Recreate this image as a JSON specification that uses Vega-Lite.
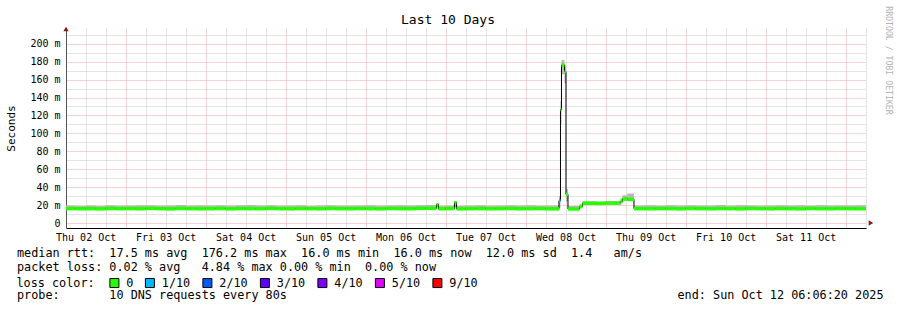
{
  "$schema": "https://vega.github.io/schema/vega-lite/v6.json",
  "width": 800,
  "height": 200,
  "autosize": {"type": "none"},
  "padding": {"left": 66, "top": 28, "right": 31, "bottom": 82},
  "background": "white",
  "config": {"view": {"stroke": null}, "font": "DejaVu Sans Mono"},
  "title": {"text": "Last 10 Days", "font": "DejaVu Sans Mono", "fontSize": 13, "fontWeight": "normal", "color": "#000000", "anchor": "middle", "frame": "group", "dx": -18, "dy": 24, "offset": 3},
  "data": {"values": [
    {"t": "2025-10-02T06:06:20Z", "t2": "2025-10-02T09:00:00Z", "med": 16.1, "lo": 15.3, "hi": 19.4, "loss": "0"},
    {"t": "2025-10-02T09:00:00Z", "t2": "2025-10-02T12:00:00Z", "med": 15.9, "lo": 15.2, "hi": 19.1, "loss": "0"},
    {"t": "2025-10-02T12:00:00Z", "t2": "2025-10-02T15:00:00Z", "med": 16.0, "lo": 15.3, "hi": 19.6, "loss": "0"},
    {"t": "2025-10-02T15:00:00Z", "t2": "2025-10-02T18:00:00Z", "med": 15.8, "lo": 15.2, "hi": 19.0, "loss": "0"},
    {"t": "2025-10-02T18:00:00Z", "t2": "2025-10-02T21:00:00Z", "med": 16.2, "lo": 15.4, "hi": 19.8, "loss": "0"},
    {"t": "2025-10-02T21:00:00Z", "t2": "2025-10-03T00:00:00Z", "med": 16.0, "lo": 15.3, "hi": 19.3, "loss": "0"},
    {"t": "2025-10-03T00:00:00Z", "t2": "2025-10-03T03:00:00Z", "med": 16.1, "lo": 15.3, "hi": 19.5, "loss": "0"},
    {"t": "2025-10-03T03:00:00Z", "t2": "2025-10-03T06:00:00Z", "med": 15.9, "lo": 15.2, "hi": 19.9, "loss": "0"},
    {"t": "2025-10-03T06:00:00Z", "t2": "2025-10-03T09:00:00Z", "med": 16.3, "lo": 15.4, "hi": 19.7, "loss": "0"},
    {"t": "2025-10-03T09:00:00Z", "t2": "2025-10-03T12:00:00Z", "med": 16.0, "lo": 15.3, "hi": 19.2, "loss": "0"},
    {"t": "2025-10-03T12:00:00Z", "t2": "2025-10-03T15:00:00Z", "med": 15.8, "lo": 15.2, "hi": 19.6, "loss": "0"},
    {"t": "2025-10-03T15:00:00Z", "t2": "2025-10-03T18:00:00Z", "med": 16.2, "lo": 15.4, "hi": 20.0, "loss": "0"},
    {"t": "2025-10-03T18:00:00Z", "t2": "2025-10-03T21:00:00Z", "med": 16.0, "lo": 15.3, "hi": 19.4, "loss": "0"},
    {"t": "2025-10-03T21:00:00Z", "t2": "2025-10-04T00:00:00Z", "med": 15.9, "lo": 15.2, "hi": 19.8, "loss": "0"},
    {"t": "2025-10-04T00:00:00Z", "t2": "2025-10-04T03:00:00Z", "med": 16.0, "lo": 15.3, "hi": 19.6, "loss": "0"},
    {"t": "2025-10-04T03:00:00Z", "t2": "2025-10-04T06:00:00Z", "med": 16.2, "lo": 15.4, "hi": 19.9, "loss": "0"},
    {"t": "2025-10-04T06:00:00Z", "t2": "2025-10-04T09:00:00Z", "med": 15.8, "lo": 15.2, "hi": 19.3, "loss": "0"},
    {"t": "2025-10-04T09:00:00Z", "t2": "2025-10-04T12:00:00Z", "med": 16.1, "lo": 15.3, "hi": 19.7, "loss": "0"},
    {"t": "2025-10-04T12:00:00Z", "t2": "2025-10-04T15:00:00Z", "med": 16.0, "lo": 15.3, "hi": 20.1, "loss": "0"},
    {"t": "2025-10-04T15:00:00Z", "t2": "2025-10-04T18:00:00Z", "med": 15.9, "lo": 15.2, "hi": 19.5, "loss": "0"},
    {"t": "2025-10-04T18:00:00Z", "t2": "2025-10-04T21:00:00Z", "med": 16.3, "lo": 15.4, "hi": 19.8, "loss": "0"},
    {"t": "2025-10-04T21:00:00Z", "t2": "2025-10-05T00:00:00Z", "med": 16.0, "lo": 15.3, "hi": 19.2, "loss": "0"},
    {"t": "2025-10-05T00:00:00Z", "t2": "2025-10-05T03:00:00Z", "med": 15.9, "lo": 15.2, "hi": 19.4, "loss": "0"},
    {"t": "2025-10-05T03:00:00Z", "t2": "2025-10-05T06:00:00Z", "med": 16.1, "lo": 15.3, "hi": 19.7, "loss": "0"},
    {"t": "2025-10-05T06:00:00Z", "t2": "2025-10-05T09:00:00Z", "med": 16.0, "lo": 15.3, "hi": 19.1, "loss": "0"},
    {"t": "2025-10-05T09:00:00Z", "t2": "2025-10-05T12:00:00Z", "med": 15.8, "lo": 15.2, "hi": 19.5, "loss": "0"},
    {"t": "2025-10-05T12:00:00Z", "t2": "2025-10-05T15:00:00Z", "med": 16.2, "lo": 15.4, "hi": 19.9, "loss": "0"},
    {"t": "2025-10-05T15:00:00Z", "t2": "2025-10-05T18:00:00Z", "med": 16.0, "lo": 15.3, "hi": 19.3, "loss": "0"},
    {"t": "2025-10-05T18:00:00Z", "t2": "2025-10-05T21:00:00Z", "med": 15.9, "lo": 15.2, "hi": 19.6, "loss": "0"},
    {"t": "2025-10-05T21:00:00Z", "t2": "2025-10-06T00:00:00Z", "med": 16.1, "lo": 15.3, "hi": 19.4, "loss": "0"},
    {"t": "2025-10-06T00:00:00Z", "t2": "2025-10-06T03:00:00Z", "med": 16.0, "lo": 15.3, "hi": 19.8, "loss": "0"},
    {"t": "2025-10-06T03:00:00Z", "t2": "2025-10-06T06:00:00Z", "med": 15.8, "lo": 15.2, "hi": 19.2, "loss": "0"},
    {"t": "2025-10-06T06:00:00Z", "t2": "2025-10-06T09:00:00Z", "med": 16.2, "lo": 15.4, "hi": 19.6, "loss": "0"},
    {"t": "2025-10-06T09:00:00Z", "t2": "2025-10-06T12:00:00Z", "med": 16.0, "lo": 15.3, "hi": 19.9, "loss": "0"},
    {"t": "2025-10-06T12:00:00Z", "t2": "2025-10-06T15:00:00Z", "med": 15.9, "lo": 15.2, "hi": 19.4, "loss": "0"},
    {"t": "2025-10-06T15:00:00Z", "t2": "2025-10-06T18:00:00Z", "med": 16.3, "lo": 15.4, "hi": 19.7, "loss": "0"},
    {"t": "2025-10-06T18:00:00Z", "t2": "2025-10-06T21:15:00Z", "med": 16.4, "lo": 15.4, "hi": 20.0, "loss": "0"},
    {"t": "2025-10-06T21:15:00Z", "t2": "2025-10-06T21:51:00Z", "med": 20.6, "lo": 16.5, "hi": 21.8, "loss": "0"},
    {"t": "2025-10-06T21:51:00Z", "t2": "2025-10-07T00:00:00Z", "med": 15.9, "lo": 15.2, "hi": 19.3, "loss": "0"},
    {"t": "2025-10-07T00:00:00Z", "t2": "2025-10-07T02:39:00Z", "med": 16.1, "lo": 15.3, "hi": 19.6, "loss": "0"},
    {"t": "2025-10-07T02:39:00Z", "t2": "2025-10-07T03:15:00Z", "med": 22.8, "lo": 17.0, "hi": 24.5, "loss": "0"},
    {"t": "2025-10-07T03:15:00Z", "t2": "2025-10-07T06:00:00Z", "med": 15.8, "lo": 15.2, "hi": 19.2, "loss": "0"},
    {"t": "2025-10-07T06:00:00Z", "t2": "2025-10-07T09:00:00Z", "med": 16.0, "lo": 15.3, "hi": 19.5, "loss": "0"},
    {"t": "2025-10-07T09:00:00Z", "t2": "2025-10-07T12:00:00Z", "med": 16.1, "lo": 15.3, "hi": 19.8, "loss": "0"},
    {"t": "2025-10-07T12:00:00Z", "t2": "2025-10-07T15:00:00Z", "med": 15.9, "lo": 15.2, "hi": 19.3, "loss": "0"},
    {"t": "2025-10-07T15:00:00Z", "t2": "2025-10-07T18:00:00Z", "med": 16.0, "lo": 15.3, "hi": 19.6, "loss": "0"},
    {"t": "2025-10-07T18:00:00Z", "t2": "2025-10-07T21:00:00Z", "med": 16.2, "lo": 15.4, "hi": 19.9, "loss": "0"},
    {"t": "2025-10-07T21:00:00Z", "t2": "2025-10-08T00:00:00Z", "med": 15.9, "lo": 15.2, "hi": 19.4, "loss": "0"},
    {"t": "2025-10-08T00:00:00Z", "t2": "2025-10-08T03:00:00Z", "med": 16.0, "lo": 15.3, "hi": 19.7, "loss": "0"},
    {"t": "2025-10-08T03:00:00Z", "t2": "2025-10-08T06:00:00Z", "med": 16.1, "lo": 15.3, "hi": 19.2, "loss": "0"},
    {"t": "2025-10-08T06:00:00Z", "t2": "2025-10-08T10:00:00Z", "med": 15.8, "lo": 15.2, "hi": 19.5, "loss": "0"},
    {"t": "2025-10-08T10:00:00Z", "t2": "2025-10-08T10:27:00Z", "med": 25.0, "lo": 17.0, "hi": 30.0, "loss": "1/10"},
    {"t": "2025-10-08T10:27:00Z", "t2": "2025-10-08T10:45:00Z", "med": 126.6, "lo": 110.0, "hi": 136.0, "loss": "0"},
    {"t": "2025-10-08T10:45:00Z", "t2": "2025-10-08T11:39:00Z", "med": 176.2, "lo": 166.0, "hi": 182.0, "loss": "0"},
    {"t": "2025-10-08T11:39:00Z", "t2": "2025-10-08T12:06:00Z", "med": 169.0, "lo": 156.0, "hi": 176.0, "loss": "0"},
    {"t": "2025-10-08T12:06:00Z", "t2": "2025-10-08T12:42:00Z", "med": 32.0, "lo": 24.0, "hi": 38.0, "loss": "0"},
    {"t": "2025-10-08T12:42:00Z", "t2": "2025-10-08T16:09:00Z", "med": 15.6, "lo": 15.0, "hi": 19.0, "loss": "0"},
    {"t": "2025-10-08T16:09:00Z", "t2": "2025-10-08T17:03:00Z", "med": 18.3, "lo": 17.0, "hi": 21.0, "loss": "0"},
    {"t": "2025-10-08T17:03:00Z", "t2": "2025-10-08T21:00:00Z", "med": 22.0, "lo": 20.5, "hi": 24.3, "loss": "0"},
    {"t": "2025-10-08T21:00:00Z", "t2": "2025-10-09T00:00:00Z", "med": 21.9, "lo": 20.6, "hi": 24.0, "loss": "0"},
    {"t": "2025-10-09T00:00:00Z", "t2": "2025-10-09T04:27:00Z", "med": 22.1, "lo": 20.7, "hi": 24.6, "loss": "0"},
    {"t": "2025-10-09T04:27:00Z", "t2": "2025-10-09T05:03:00Z", "med": 24.0, "lo": 22.0, "hi": 27.5, "loss": "0"},
    {"t": "2025-10-09T05:03:00Z", "t2": "2025-10-09T06:30:00Z", "med": 26.8, "lo": 24.5, "hi": 31.0, "loss": "0"},
    {"t": "2025-10-09T06:30:00Z", "t2": "2025-10-09T08:30:00Z", "med": 26.5, "lo": 24.2, "hi": 33.0, "loss": "0"},
    {"t": "2025-10-09T08:30:00Z", "t2": "2025-10-09T12:00:00Z", "med": 16.0, "lo": 15.3, "hi": 19.4, "loss": "0"},
    {"t": "2025-10-09T12:00:00Z", "t2": "2025-10-09T15:00:00Z", "med": 15.9, "lo": 15.2, "hi": 19.7, "loss": "0"},
    {"t": "2025-10-09T15:00:00Z", "t2": "2025-10-09T18:00:00Z", "med": 16.1, "lo": 15.3, "hi": 19.3, "loss": "0"},
    {"t": "2025-10-09T18:00:00Z", "t2": "2025-10-09T21:00:00Z", "med": 16.0, "lo": 15.3, "hi": 19.8, "loss": "0"},
    {"t": "2025-10-09T21:00:00Z", "t2": "2025-10-10T00:00:00Z", "med": 15.8, "lo": 15.2, "hi": 19.5, "loss": "0"},
    {"t": "2025-10-10T00:00:00Z", "t2": "2025-10-10T03:00:00Z", "med": 16.2, "lo": 15.4, "hi": 19.9, "loss": "0"},
    {"t": "2025-10-10T03:00:00Z", "t2": "2025-10-10T06:00:00Z", "med": 16.0, "lo": 15.3, "hi": 19.4, "loss": "0"},
    {"t": "2025-10-10T06:00:00Z", "t2": "2025-10-10T09:00:00Z", "med": 15.9, "lo": 15.2, "hi": 19.6, "loss": "0"},
    {"t": "2025-10-10T09:00:00Z", "t2": "2025-10-10T12:00:00Z", "med": 16.1, "lo": 15.3, "hi": 20.0, "loss": "0"},
    {"t": "2025-10-10T12:00:00Z", "t2": "2025-10-10T15:00:00Z", "med": 16.0, "lo": 15.3, "hi": 19.3, "loss": "0"},
    {"t": "2025-10-10T15:00:00Z", "t2": "2025-10-10T18:00:00Z", "med": 15.8, "lo": 15.2, "hi": 19.7, "loss": "0"},
    {"t": "2025-10-10T18:00:00Z", "t2": "2025-10-10T21:00:00Z", "med": 16.2, "lo": 15.4, "hi": 19.5, "loss": "0"},
    {"t": "2025-10-10T21:00:00Z", "t2": "2025-10-11T00:00:00Z", "med": 16.0, "lo": 15.3, "hi": 19.2, "loss": "0"},
    {"t": "2025-10-11T00:00:00Z", "t2": "2025-10-11T03:00:00Z", "med": 15.9, "lo": 15.2, "hi": 19.6, "loss": "0"},
    {"t": "2025-10-11T03:00:00Z", "t2": "2025-10-11T06:00:00Z", "med": 16.1, "lo": 15.3, "hi": 19.8, "loss": "0"},
    {"t": "2025-10-11T06:00:00Z", "t2": "2025-10-11T09:00:00Z", "med": 16.0, "lo": 15.3, "hi": 19.4, "loss": "0"},
    {"t": "2025-10-11T09:00:00Z", "t2": "2025-10-11T12:00:00Z", "med": 15.8, "lo": 15.2, "hi": 19.7, "loss": "0"},
    {"t": "2025-10-11T12:00:00Z", "t2": "2025-10-11T15:00:00Z", "med": 16.2, "lo": 15.4, "hi": 19.3, "loss": "0"},
    {"t": "2025-10-11T15:00:00Z", "t2": "2025-10-11T18:00:00Z", "med": 16.0, "lo": 15.3, "hi": 19.9, "loss": "0"},
    {"t": "2025-10-11T18:00:00Z", "t2": "2025-10-11T21:00:00Z", "med": 15.9, "lo": 15.2, "hi": 19.5, "loss": "0"},
    {"t": "2025-10-11T21:00:00Z", "t2": "2025-10-12T00:00:00Z", "med": 16.1, "lo": 15.3, "hi": 19.6, "loss": "0"},
    {"t": "2025-10-12T00:00:00Z", "t2": "2025-10-12T03:00:00Z", "med": 16.0, "lo": 15.3, "hi": 19.4, "loss": "0"},
    {"t": "2025-10-12T03:00:00Z", "t2": "2025-10-12T06:06:20Z", "med": 15.9, "lo": 15.2, "hi": 19.7, "loss": "0"},
    {"t": "2025-10-12T06:06:20Z", "t2": "2025-10-12T06:06:20Z", "med": 15.9, "lo": 15.2, "hi": 19.7, "loss": "0"}
  ]},
  "layer": [
    {
      "mark": {"type": "area", "interpolate": "step-after", "color": "#b9b9b9"},
      "encoding": {
        "x": {"field": "t", "type": "temporal",
              "scale": {"type": "utc", "domain": [1759385180000, 1760249180000]},
              "axis": {"orient": "bottom", "labels": false, "ticks": false, "domain": false, "grid": true, "gridColor": "#c8c8c8", "gridDash": [1, 1], "gridWidth": 1,
                       "values": [1759406400000, 1759428000000, 1759471200000, 1759492800000, 1759514400000, 1759557600000, 1759579200000, 1759600800000, 1759644000000, 1759665600000, 1759687200000, 1759730400000, 1759752000000, 1759773600000, 1759816800000, 1759838400000, 1759860000000, 1759903200000, 1759924800000, 1759946400000, 1759989600000, 1760011200000, 1760032800000, 1760076000000, 1760097600000, 1760119200000, 1760162400000, 1760184000000, 1760205600000, 1760248800000],
                       "title": "probe:\u00a0\u00a0\u00a0\u00a0\u00a0\u00a0\u00a010 DNS requests every 80s\u00a0\u00a0\u00a0\u00a0\u00a0\u00a0\u00a0\u00a0\u00a0\u00a0\u00a0\u00a0\u00a0\u00a0\u00a0\u00a0\u00a0\u00a0\u00a0\u00a0\u00a0\u00a0\u00a0\u00a0\u00a0\u00a0\u00a0\u00a0\u00a0\u00a0\u00a0\u00a0\u00a0\u00a0\u00a0\u00a0\u00a0\u00a0\u00a0\u00a0\u00a0\u00a0\u00a0\u00a0\u00a0\u00a0\u00a0\u00a0\u00a0\u00a0\u00a0\u00a0\u00a0\u00a0\u00a0end: Sun Oct 12 06:06:20 2025",
                       "titleFont": "DejaVu Sans Mono", "titleFontSize": 11.8, "titleFontWeight": "normal", "titleColor": "#000000",
                       "titleAlign": "left", "titleBaseline": "top", "titleX": -49.5, "titleY": 61}},
        "y": {"field": "lo", "type": "quantitative",
              "scale": {"domain": [0, 212], "nice": false, "zero": true},
              "axis": {"orient": "left", "labels": false, "ticks": false, "domain": false, "grid": true, "gridColor": "#c8c8c8", "gridDash": [1, 1], "values": [10, 30, 50, 70, 90, 110, 130, 150, 170, 190, 210], "title": null}},
        "y2": {"field": "hi"}
      }
    },
    {
      "mark": {"type": "line", "interpolate": "step-after", "color": "#000000", "strokeWidth": 1},
      "encoding": {
        "x": {"field": "t", "type": "temporal",
              "scale": {"type": "utc", "domain": [1759385180000, 1760249180000]},
              "axis": {"orient": "bottom", "labels": false, "ticks": false, "domain": false, "grid": true, "gridColor": "#eea8a8", "gridDash": [1, 1],
                       "values": [1759449600000, 1759536000000, 1759622400000, 1759708800000, 1759795200000, 1759881600000, 1759968000000, 1760054400000, 1760140800000, 1760227200000], "title": null}},
        "y": {"field": "med", "type": "quantitative",
              "scale": {"domain": [0, 212], "nice": false, "zero": true},
              "axis": {"orient": "left", "values": [0, 20, 40, 60, 80, 100, 120, 140, 160, 180, 200], "grid": true, "gridColor": "#eea8a8", "gridDash": [1, 1],
                       "labelExpr": "datum.value == 0 ? '0\u00a0\u00a0' : datum.value + '\u00a0m'",
                       "labelFont": "DejaVu Sans Mono", "labelFontSize": 10, "labelColor": "#000000", "labelPadding": 6,
                       "ticks": false, "domain": true, "domainColor": "#555555",
                       "title": "Seconds", "titleFont": "DejaVu Sans Mono", "titleFontSize": 11, "titleFontWeight": "normal", "titleColor": "#000000",
                       "titleAngle": -90, "titleX": -55, "titleY": 100, "titleAlign": "center", "titleBaseline": "middle"}}
      }
    },
    {
      "mark": {"type": "bar", "size": 3.5},
      "encoding": {
        "x": {"field": "t", "type": "temporal",
              "scale": {"type": "utc", "domain": [1759385180000, 1760249180000]},
              "axis": {"orient": "bottom", "grid": false, "ticks": false, "domain": true, "domainColor": "#000000",
                       "values": [1759406400000, 1759492800000, 1759579200000, 1759665600000, 1759752000000, 1759838400000, 1759924800000, 1760011200000, 1760097600000, 1760184000000],
                       "format": "%a %d %b", "labelFont": "DejaVu Sans Mono", "labelFontSize": 10, "labelColor": "#000000", "labelPadding": 4, "labelFlush": false, "labelOverlap": false,
                       "title": [
                         "median rtt:\u00a0\u00a017.5 ms avg\u00a0\u00a0176.2 ms max\u00a0\u00a016.0 ms min\u00a0\u00a016.0 ms now\u00a0\u00a012.0 ms sd\u00a0\u00a01.4\u00a0\u00a0\u00a0am/s",
                         "packet loss: 0.02 % avg\u00a0\u00a0\u00a04.84 % max 0.00 % min\u00a0\u00a00.00 % now"
                       ],
                       "titleFont": "DejaVu Sans Mono", "titleFontSize": 11.8, "titleFontWeight": "normal", "titleColor": "#000000", "titleLineHeight": 14,
                       "titleAlign": "left", "titleBaseline": "top", "titleX": -49.5, "titleY": 19}},
        "x2": {"field": "t2"},
        "y": {"field": "med", "type": "quantitative", "scale": {"domain": [0, 212], "nice": false, "zero": true},
              "axis": {"orient": "right", "labels": false, "ticks": false, "domain": false, "grid": false,
                       "title": "RRDTOOL / TOBI OETIKER", "titleFont": "DejaVu Sans Mono", "titleFontSize": 8.2, "titleFontWeight": "normal", "titleColor": "#b4b4b4",
                       "titleAngle": 90, "titleX": 21, "titleY": 32, "titleAlign": "center", "titleBaseline": "middle"}},
        "color": {"field": "loss", "type": "nominal",
                  "scale": {"domain": ["0", "1/10", "2/10", "3/10", "4/10", "5/10", "9/10"], "range": ["#26ff00", "#00b8ff", "#0059ff", "#5e00ff", "#7e00ff", "#dd00ff", "#ff0000"]},
                  "legend": {"orient": "none", "legendX": -49.5, "legendY": 249, "direction": "horizontal",
                             "title": "loss color:", "titleOrient": "left", "titleFont": "DejaVu Sans Mono", "titleFontSize": 11.8, "titleFontWeight": "normal", "titleColor": "#000000", "titlePadding": 13,
                             "labelFont": "DejaVu Sans Mono", "labelFontSize": 11.8, "labelColor": "#000000", "labelOffset": 6, "columnPadding": 9.5,
                             "symbolType": "square", "symbolSize": 81, "symbolStrokeColor": "#000000", "symbolStrokeWidth": 1, "padding": 0}}
      }
    },
    {
      "data": {"values": [{}]},
      "mark": {"type": "point", "shape": "triangle-up", "filled": true, "color": "#8b1a1a", "opacity": 1, "size": 28},
      "encoding": {
        "x": {"datum": 1759385180000, "type": "temporal", "axis": null},
        "y": {"datum": 216.5, "type": "quantitative", "axis": null}
      }
    },
    {
      "data": {"values": [{}]},
      "mark": {"type": "point", "shape": "triangle-right", "filled": true, "color": "#8b1a1a", "opacity": 1, "size": 28},
      "encoding": {
        "x": {"datum": 1760254580000, "type": "temporal", "axis": null},
        "y": {"datum": 0, "type": "quantitative", "axis": null}
      }
    }
  ],
  "resolve": {"axis": {"x": "independent", "y": "independent"}}
}
